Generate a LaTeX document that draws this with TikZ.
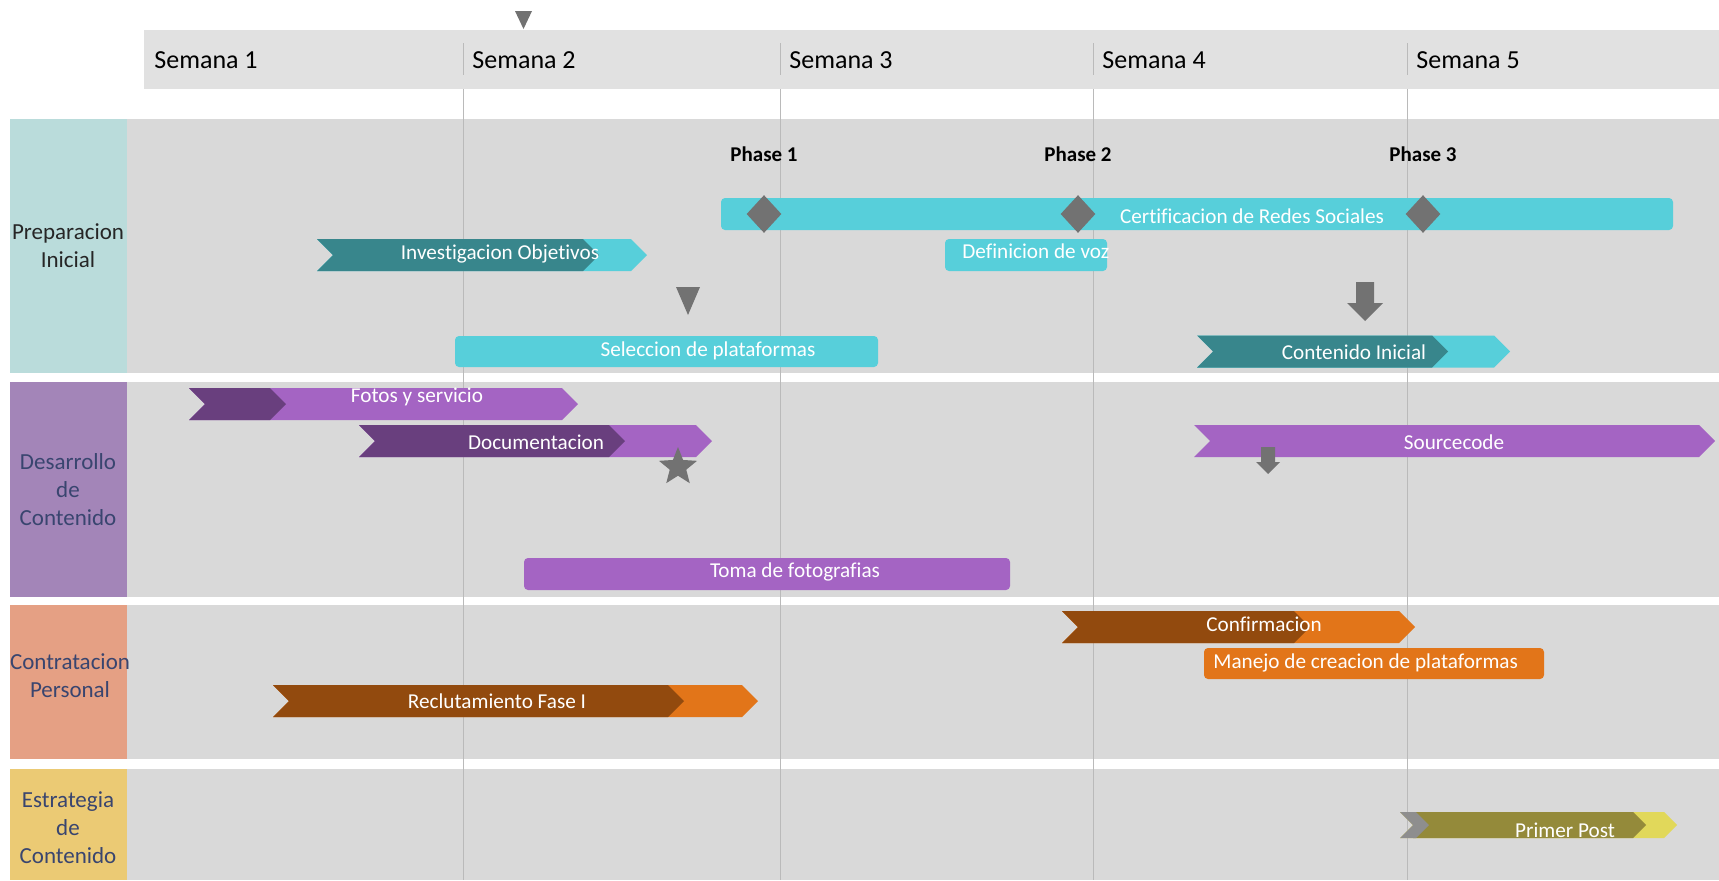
\documentclass[tikz,border=0pt]{standalone}
\usepackage{fontspec}
\setmainfont{Carlito}[Ligatures=NoCommon]
\usetikzlibrary{shapes.geometric}

\definecolor{hdrgray}{HTML}{E1E1E1}
\definecolor{bandgray}{HTML}{D9D9D9}
\definecolor{linegray}{HTML}{BABABA}
\definecolor{msgray}{HTML}{727272}
\definecolor{labelblue}{HTML}{39456F}
\definecolor{prepcol}{HTML}{BADCDB}
\definecolor{desacol}{HTML}{A385B8}
\definecolor{contcol}{HTML}{E5A084}
\definecolor{estrcol}{HTML}{EBCA74}
\definecolor{cyanbar}{HTML}{57CFDA}
\definecolor{tealbar}{HTML}{38868C}
\definecolor{purplebar}{HTML}{A464C3}
\definecolor{plumbar}{HTML}{693F7E}
\definecolor{orangebar}{HTML}{E27519}
\definecolor{brownbar}{HTML}{924A0E}
\definecolor{olivebar}{HTML}{948A3A}
\definecolor{yellowbar}{HTML}{E1D85A}
\definecolor{startgray}{HTML}{8E8E8E}

\tikzset{week/.style={font=\fontsize{13}{15}\selectfont, anchor=west, inner sep=0pt},
         rowlabel/.style={font=\fontsize{11.5}{14}\selectfont, text=labelblue, align=center, inner sep=0pt},
         barlabel/.style={font=\fontsize{10.6}{12}\selectfont, text=white, inner sep=0pt},
         phase/.style={font=\bfseries\fontsize{10.5}{12}\selectfont, inner sep=0pt},
         milestone/.style={diamond, fill=msgray, inner sep=0pt, minimum width=17.5pt, minimum height=19pt},
         gridline/.style={draw=linegray, line width=0.45pt}}

% chevron bar: colour, left x, tip x, centre y, half height
\newcommand{\chevron}[5]{%
  \fill[#1] (#2,#4-#5) -- (#3-#5,#4-#5) -- (#3,#4) -- (#3-#5,#4+#5) -- (#2,#4+#5) -- (#2+#5,#4) -- cycle;}

\begin{document}
\begin{tikzpicture}[x=0.5pt, y=-0.5pt]
    \useasboundingbox[fill=white] (0,0) rectangle (1719,880);

    % header
    \fill[hdrgray] (144,30) rectangle (1719,89);
    \fill[msgray] (515,11) -- (532,11) -- (523.5,29) -- cycle;
    \foreach \w/\x in {1/145, 2/463, 3/780, 4/1093, 5/1407}
        \node[week] (sem\w) at (\x+9,60) {Semana \w};
    \foreach \x in {463, 780, 1093, 1407}
        \draw[gridline] (\x,43) -- (\x,75);

    % rows
    \fill[prepcol] (10,119) rectangle (127,373);
    \fill[desacol] (10,382) rectangle (127,597);
    \fill[contcol] (10,605) rectangle (127,759);
    \fill[estrcol] (10,769) rectangle (127,880);
    \fill[bandgray] (127,119) rectangle (1719,373);
    \fill[bandgray] (127,382) rectangle (1719,597);
    \fill[bandgray] (127,605) rectangle (1719,759);
    \fill[bandgray] (127,769) rectangle (1719,880);
    \foreach \x in {463, 780, 1093, 1407}
        \draw[gridline] (\x,89) -- (\x,880);

    \node[rowlabel, text=black!85] (prep) at (68,246) {Preparacion\\Inicial};
    \node[rowlabel] (desa) at (68,490) {Desarrollo\\de\\Contenido};
    \node[rowlabel] (cont) at (70,676) {Contratacion\\Personal};
    \node[rowlabel] (estr) at (68,828) {Estrategia\\de\\Contenido};

    % Preparacion Inicial
    \fill[cyanbar, rounded corners=2pt] (721,198) rectangle (1673,230);
    \node[barlabel] (cert) at (1252,216) {Certificacion de Redes Sociales};
    \node[milestone] (ms1) at (764,214) {};
    \node[milestone] (ms2) at (1078,214) {};
    \node[milestone] (ms3) at (1423,214) {};
    \node[phase] (ph1) at (764,154) {Phase 1};
    \node[phase] (ph2) at (1078,154) {Phase 2};
    \node[phase] (ph3) at (1423,154) {Phase 3};

    \chevron{cyanbar}{317}{647}{255}{16}
    \chevron{tealbar}{317}{599}{255}{16}
    \node[barlabel] (inv) at (500,254) {Investigacion Objetivos};

    \fill[cyanbar, rounded corners=2pt] (945,239) rectangle (1107,271);
    \node[barlabel, anchor=west] (voz) at (962,251) {Definicion de voz};

    \fill[msgray] (676,287) -- (700,287) -- (688,315) -- cycle;
    \fill[cyanbar, rounded corners=2pt] (455,336) rectangle (878,367);
    \node[barlabel] (sel) at (708,351) {Seleccion de plataformas};

    \fill[msgray] (1356,282) -- (1374,282) -- (1374,303) -- (1383,303) -- (1365,321)
        -- (1347,303) -- (1356,303) -- cycle;
    \chevron{cyanbar}{1197}{1510}{351.5}{16}
    \chevron{tealbar}{1197}{1448}{351.5}{16}
    \node[barlabel] (ini) at (1354,352) {Contenido Inicial};

    % Desarrollo de Contenido
    \chevron{purplebar}{189}{578}{404}{16}
    \chevron{plumbar}{189}{286}{404}{16}
    \node[barlabel] (fotos) at (417,397) {Fotos y servicio};

    \chevron{purplebar}{359}{712}{441}{16}
    \chevron{plumbar}{359}{625}{441}{16}
    \node[barlabel] (doc) at (536,442) {Documentacion};
    \node[star, star points=5, star point ratio=2.3, fill=msgray, inner sep=0pt,
          minimum size=20pt] (star) at (678,467) {};

    \chevron{purplebar}{1194}{1715}{441}{16}
    \node[barlabel] (src) at (1454,442) {Sourcecode};
    \fill[msgray] (1261,447) -- (1275,447) -- (1275,462) -- (1280,462) -- (1268,474)
        -- (1256,462) -- (1261,462) -- cycle;

    \fill[purplebar, rounded corners=2pt] (524,558) rectangle (1010,590);
    \node[barlabel] (toma) at (795,572) {Toma de fotografias};

    % Contratacion Personal
    \chevron{orangebar}{1062}{1415}{627}{16}
    \chevron{brownbar}{1062}{1310}{627}{16}
    \node[barlabel] (conf) at (1264,624) {Confirmacion};

    \fill[orangebar, rounded corners=2pt] (1204,648) rectangle (1544,679);
    \node[barlabel, anchor=west] (manejo) at (1213,663) {Manejo de creacion de plataformas};

    \chevron{orangebar}{273}{758}{701}{16}
    \chevron{brownbar}{273}{684}{701}{16}
    \node[barlabel] (recl) at (497,701) {Reclutamiento Fase I};

    % Estrategia de Contenido
    \chevron{yellowbar}{1400}{1677}{825}{13}
    \chevron{olivebar}{1413}{1646}{825}{13}
    \chevron{startgray}{1400}{1429}{825}{13}
    \node[barlabel] (post) at (1565,830) {Primer Post};
\end{tikzpicture}
\end{document}
